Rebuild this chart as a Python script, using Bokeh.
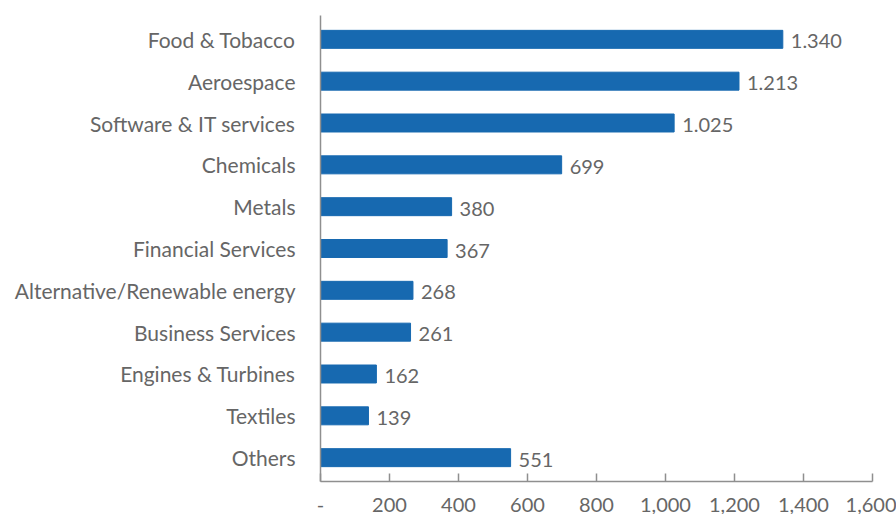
from bokeh.plotting import figure
from bokeh.models import FactorRange, Range1d, ColumnDataSource, NumeralTickFormatter, FixedTicker
from bokeh.embed import file_html
from bokeh.resources import INLINE
from bokeh.core.properties import value

categories = ["Food & Tobacco", "Aeroespace", "Software & IT services", "Chemicals", "Metals",
              "Financial Services", "Alternative/Renewable energy", "Business Services",
              "Engines & Turbines", "Textiles", "Others"]
values = [1340, 1213, 1025, 699, 380, 367, 268, 261, 162, 139, 551]
value_labels = ["1.340", "1.213", "1.025", "699", "380", "367", "268", "261", "162", "139", "551"]
x_ticks = [0, 200, 400, 600, 800, 1000, 1200, 1400, 1600]

FONT = "Lato"
TXT = "#666666"
AX = "#8f8f8f"
BAR = "#1769b0"

src = ColumnDataSource(dict(cat=categories, val=values, lab=value_labels))

p = figure(width=896, height=514, output_backend="svg", toolbar_location=None,
           y_range=FactorRange(factors=list(reversed(categories)), range_padding=0.0127),
           x_range=Range1d(0, 1600),
           min_border_left=320, min_border_right=24, min_border_top=15, min_border_bottom=31)

p.hbar(y="cat", right="val", left=0, height=0.43, color=BAR, source=src)
p.text(x="val", y="cat", text="lab", source=src, x_offset=8, y_offset=2,
       text_baseline="middle", text_align="left", text_color=TXT,
       text_font=value(FONT), text_font_size="20px")

p.xgrid.visible = False
p.ygrid.visible = False
p.outline_line_color = None

xa = p.xaxis[0]
xa.ticker = FixedTicker(ticks=x_ticks)
xa.formatter = NumeralTickFormatter(format="0,0")
xa.major_label_overrides = {0: "-"}
xa.axis_line_color = AX
xa.axis_line_width = 1.5
xa.major_tick_line_color = AX
xa.major_tick_line_width = 1.5
xa.major_tick_in = 8
xa.major_tick_out = 0
xa.minor_tick_line_color = None
xa.major_label_standoff = 16
xa.major_label_text_line_height = 0.6
xa.major_label_text_font = FONT
xa.major_label_text_font_size = "20px"
xa.major_label_text_color = TXT

ya = p.yaxis[0]
ya.axis_line_color = AX
ya.axis_line_width = 1.5
ya.major_tick_line_color = None
ya.minor_tick_line_color = None
ya.major_label_standoff = 19
ya.major_label_text_font = FONT
ya.major_label_text_font_size = "21px"
ya.major_label_text_color = TXT

open("out.html", "w").write(file_html(p, INLINE))
